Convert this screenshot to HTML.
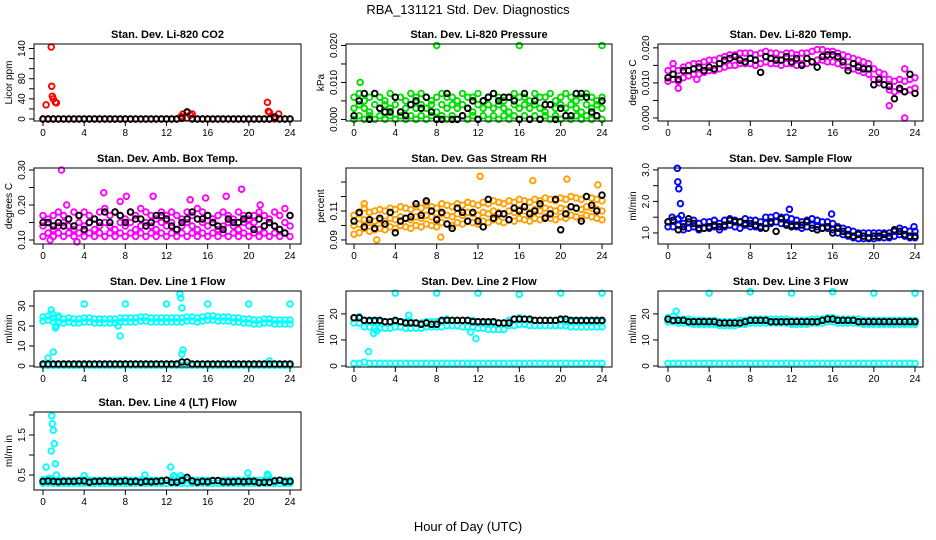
<!DOCTYPE html>
<html><head><meta charset="utf-8"><style>
html,body{margin:0;padding:0;background:#fff}
svg{display:block;font-family:"Liberation Sans",Arial,sans-serif}
</style></head><body>
<svg id="chart" width="936" height="540" viewBox="0 0 936 540" xmlns="http://www.w3.org/2000/svg">
<rect x="0" y="0" width="936" height="540" fill="#fff"/>
<text x="468" y="14" text-anchor="middle" font-size="13">RBA_131121  Std. Dev. Diagnostics</text>
<text x="468" y="531" text-anchor="middle" font-size="13">Hour of Day (UTC)</text>
</svg>
<script>
const hours = [0,0.5,1,1.5,2,2.5,3,3.5,4,4.5,5,5.5,6,6.5,7,7.5,8,8.5,9,9.5,10,10.5,11,11.5,12,12.5,13,13.5,14,14.5,15,15.5,16,16.5,17,17.5,18,18.5,19,19.5,20,20.5,21,21.5,22,22.5,23,23.5,24];
const xTicks = [0,4,8,12,16,20,24];

const co2Band = [0,0,0,0,0,0,0,0,0,0,0,0,0,0,0,0,0,0,0,0,0,0,0,0,0,0,0,1,2,1,0,0,0,0,0,0,0,0,0,0,0,0,0,0,0,0,0,0,0];
const co2Black = [0,0,0,0,0,0,0,0,0,0,0,0,0,0,0,0,0,0,0,0,0,0,0,0,0,0,0,2,14,0,0,0,0,0,0,0,0,0,0,0,0,0,0,0,0,4,0,0,0];
const co2OutH = [0.3,0.8,0.85,0.9,1.0,1.2,1.3,13.4,13.6,14,14.3,14.5,21.8,21.9,22,22.9,22.6];
const co2OutV = [28,143,65,45,40,33,32,5,10,13,8,10,33,15,13,10,3];

const presA = [0.006,0.007,0.005,0.006,0.007,0.006,0.005,0.007,0.006,0.006,0.005,0.007,0.006,0.007,0.006,0.005,0.006,0.007,0.006,0.006,0.005,0.007,0.006,0.006,0.007,0.005,0.006,0.007,0.006,0.005,0.006,0.007,0.006,0.006,0.005,0.007,0.006,0.006,0.007,0.005,0.006,0.007,0.006,0.005,0.006,0.007,0.006,0.005,0.006];
const presB = [0.003,0.004,0.003,0.002,0.004,0.003,0.004,0.003,0.004,0.002,0.003,0.004,0.003,0.004,0.003,0.004,0.002,0.004,0.003,0.004,0.003,0.004,0.003,0.002,0.004,0.003,0.004,0.003,0.004,0.003,0.002,0.004,0.003,0.004,0.003,0.004,0.003,0.002,0.004,0.003,0.004,0.003,0.004,0.003,0.002,0.004,0.003,0.004,0.003];
const presC = [0.000,0.001,0.000,0.001,0.000,0.001,0.000,0.001,0.000,0.001,0.000,0.001,0.000,0.001,0.000,0.001,0.000,0.001,0.000,0.001,0.000,0.001,0.000,0.001,0.000,0.001,0.000,0.001,0.000,0.001,0.000,0.001,0.000,0.001,0.000,0.001,0.000,0.001,0.000,0.001,0.000,0.001,0.000,0.001,0.000,0.001,0.000,0.001,0.000];
const presBlack = [0.001,0.005,0.007,0.000,0.007,0.003,0.002,0.002,0.006,0.002,0.001,0.004,0.005,0.003,0.006,0.002,0.000,0.000,0.007,0.000,0.000,0.001,0.003,0.005,0.000,0.005,0.006,0.007,0.005,0.006,0.006,0.005,0.000,0.007,0.000,0.005,0.000,0.004,0.004,0.000,0.003,0.001,0.001,0.007,0.007,0.006,0.002,0.001,0.005];
const presOutH = [0.6,8,16,24];
const presOutV = [0.010,0.020,0.020,0.020];

const tempA = [0.0135,0.014,0.0135,0.0145,0.015,0.0155,0.0155,0.016,0.0165,0.0165,0.017,0.0175,0.018,0.018,0.0185,0.0185,0.0185,0.018,0.0185,0.019,0.0185,0.0185,0.018,0.0185,0.0185,0.018,0.0185,0.0185,0.019,0.0195,0.0195,0.019,0.019,0.0185,0.018,0.0175,0.017,0.0165,0.016,0.0155,0.014,0.013,0.0125,0.011,0.0105,0.011,0.0105,0.011,0.0115];
const tempB = [0.0105,0.011,0.0105,0.0115,0.012,0.0125,0.0125,0.013,0.0135,0.0135,0.014,0.0145,0.015,0.015,0.0155,0.0155,0.0155,0.015,0.0155,0.016,0.0155,0.0155,0.015,0.0155,0.0155,0.015,0.0155,0.0155,0.016,0.0165,0.0165,0.016,0.016,0.0155,0.015,0.0145,0.014,0.0135,0.013,0.0125,0.011,0.010,0.0095,0.008,0.0075,0.008,0.0075,0.008,0.0085];
const tempBlack = [0.0115,0.0125,0.011,0.0135,0.0135,0.014,0.0145,0.0135,0.0145,0.014,0.0155,0.0165,0.017,0.0175,0.0165,0.016,0.017,0.0165,0.013,0.0175,0.017,0.0165,0.0165,0.0175,0.016,0.017,0.015,0.017,0.016,0.0145,0.0175,0.018,0.018,0.0175,0.016,0.0135,0.0155,0.0145,0.014,0.014,0.0095,0.011,0.0095,0.009,0.0055,0.0085,0.0075,0.0125,0.007];
const tempOutH = [0.5,2.8,23,21.5,23,1];
const tempOutV = [0.0155,0.011,0.0,0.0035,0.014,0.0085];

const ambA = [0.17,0.16,0.17,0.18,0.17,0.16,0.18,0.17,0.18,0.17,0.16,0.18,0.19,0.17,0.18,0.17,0.16,0.18,0.17,0.19,0.18,0.17,0.16,0.18,0.17,0.18,0.17,0.16,0.18,0.17,0.19,0.18,0.17,0.16,0.17,0.18,0.17,0.16,0.18,0.17,0.16,0.17,0.18,0.17,0.16,0.18,0.17,0.19,0.17];
const ambB = [0.14,0.15,0.13,0.14,0.15,0.14,0.13,0.15,0.14,0.15,0.13,0.14,0.15,0.14,0.13,0.15,0.14,0.15,0.13,0.14,0.15,0.14,0.13,0.15,0.14,0.15,0.13,0.14,0.15,0.14,0.13,0.15,0.14,0.15,0.13,0.14,0.15,0.14,0.13,0.15,0.14,0.15,0.13,0.14,0.15,0.14,0.13,0.15,0.14];
const ambC = [0.11,0.12,0.11,0.12,0.11,0.12,0.11,0.12,0.11,0.12,0.11,0.12,0.11,0.12,0.11,0.12,0.11,0.12,0.11,0.12,0.11,0.12,0.11,0.12,0.11,0.12,0.11,0.12,0.11,0.12,0.11,0.12,0.11,0.12,0.11,0.12,0.11,0.12,0.11,0.12,0.11,0.12,0.11,0.12,0.11,0.12,0.11,0.12,0.11];
const ambBlack = [0.15,0.15,0.14,0.15,0.14,0.16,0.14,0.17,0.13,0.15,0.16,0.15,0.18,0.15,0.18,0.17,0.15,0.18,0.16,0.16,0.14,0.15,0.17,0.17,0.16,0.14,0.13,0.15,0.16,0.18,0.16,0.16,0.17,0.15,0.14,0.13,0.16,0.15,0.15,0.16,0.17,0.13,0.16,0.14,0.15,0.14,0.13,0.12,0.17];
const ambOutH = [1.8,2.3,3.3,5.9,7.5,8.1,10.7,14.3,15.8,17.8,19.3,21.1,0.7];
const ambOutV = [0.30,0.20,0.095,0.235,0.21,0.225,0.225,0.215,0.22,0.225,0.245,0.20,0.10];

const rhA = [0.107,0.108,0.112,0.109,0.110,0.111,0.110,0.112,0.111,0.113,0.112,0.111,0.113,0.112,0.114,0.113,0.112,0.115,0.114,0.113,0.115,0.114,0.116,0.115,0.114,0.116,0.115,0.117,0.116,0.115,0.117,0.116,0.118,0.117,0.116,0.118,0.117,0.119,0.118,0.117,0.119,0.118,0.120,0.119,0.118,0.120,0.119,0.118,0.117];
const rhB = [0.100,0.101,0.104,0.102,0.103,0.104,0.103,0.105,0.104,0.106,0.105,0.104,0.106,0.105,0.107,0.106,0.105,0.108,0.107,0.106,0.108,0.107,0.109,0.108,0.107,0.109,0.108,0.110,0.109,0.108,0.110,0.109,0.111,0.110,0.109,0.111,0.110,0.112,0.111,0.110,0.112,0.111,0.113,0.112,0.111,0.113,0.112,0.111,0.110];
const rhC = [0.094,0.095,0.098,0.096,0.097,0.098,0.097,0.099,0.098,0.100,0.099,0.098,0.100,0.099,0.101,0.100,0.099,0.102,0.101,0.100,0.102,0.101,0.103,0.102,0.101,0.103,0.102,0.104,0.103,0.102,0.104,0.103,0.105,0.104,0.103,0.105,0.104,0.106,0.105,0.104,0.106,0.105,0.107,0.106,0.105,0.107,0.106,0.105,0.104];
const rhBlack = [0.103,0.109,0.099,0.104,0.098,0.105,0.101,0.109,0.095,0.103,0.105,0.106,0.115,0.107,0.117,0.110,0.104,0.109,0.101,0.098,0.112,0.109,0.103,0.109,0.103,0.099,0.118,0.105,0.108,0.108,0.104,0.112,0.110,0.113,0.108,0.110,0.115,0.105,0.108,0.118,0.097,0.108,0.113,0.112,0.103,0.120,0.114,0.110,0.121];
const rhOutH = [2.2,12.2,17.3,20.6,23.6,1,7,8.4];
const rhOutV = [0.090,0.134,0.131,0.132,0.128,0.115,0.116,0.092];

const flowA = [1.35,1.4,1.45,1.3,1.35,1.4,1.3,1.35,1.35,1.4,1.3,1.4,1.45,1.4,1.35,1.45,1.4,1.4,1.35,1.5,1.5,1.55,1.5,1.5,1.45,1.4,1.35,1.4,1.45,1.4,1.35,1.35,1.3,1.2,1.15,1.1,1.05,1.0,1.0,1.0,1.0,1.0,1.0,1.0,1.05,1.15,1.1,1.05,1.05];
const flowB = [1.2,1.2,1.25,1.1,1.15,1.2,1.1,1.15,1.15,1.2,1.1,1.2,1.25,1.2,1.15,1.25,1.2,1.2,1.15,1.3,1.3,1.35,1.3,1.3,1.25,1.2,1.15,1.2,1.25,1.2,1.15,1.15,1.1,1.0,0.95,0.9,0.85,0.82,0.82,0.82,0.82,0.85,0.85,0.85,0.9,0.95,0.9,0.85,0.85];
const flowBlack = [1.35,1.4,1.1,1.2,1.45,1.3,1.15,1.15,1.2,1.25,1.2,1.25,1.4,1.35,1.35,1.3,1.3,1.25,1.2,1.15,1.35,1.05,1.45,1.25,1.2,1.25,1.25,1.35,1.15,1.1,1.15,1.2,1.0,1.15,1.05,0.95,0.9,0.95,0.9,0.85,0.9,0.9,0.95,0.9,1.1,1.05,0.95,0.9,0.9];
const flowOutH = [0.9,0.95,1.05,1.2,1.3,0.4,15.9,11.8,23.9];
const flowOutV = [3.05,2.62,2.4,1.93,1.55,1.5,1.6,1.75,1.2];

const l1A = [24.5,25,24,24,23.5,24,23.5,23.5,24,24,23.5,23.5,23.5,23.5,23.5,24,24,24,24,24.5,24.5,24,24,24,24,24,24,24,24.5,24.5,24,24.5,25,25,24.5,24.5,24.5,24,24,23.5,23.5,23,23,23.5,23.5,23,23,23,23];
const l1B = [22.5,23,22,22,21.5,22,21.5,21.5,22,22,21.5,21.5,21.5,21.5,21.5,22,22,22,22,22.5,22.5,22,22,22,22,22,22,22,22.5,22.5,22,22.5,23,23,22.5,22.5,22.5,22,22,21.5,21.5,21,21,21.5,21.5,21,21,21,21];
const l1Low = [0.3,0.3,0.3,0.3,0.3,0.3,0.3,0.3,0.3,0.3,0.3,0.3,0.3,0.3,0.3,0.3,0.3,0.3,0.3,0.3,0.3,0.3,0.3,0.3,0.3,0.3,0.3,0.3,0.3,0.3,0.3,0.3,0.3,0.3,0.3,0.3,0.3,0.3,0.3,0.3,0.3,0.3,0.3,0.3,0.3,0.3,0.3,0.3,0.3];
const l1Black = [1,1,1,1,1,1,1,1,1,1,1,1,1,1,1,1,1,1,1,1,1,1,1,1,1,1,1,2,2,1,1,1,1,1,1,1,1,1,1,1,1,1,1,1,1,1,1,1,1];
const l1OutH = [0.8,0.9,1.2,1.3,1.5,0.5,4,8,12,13.3,13.4,13.5,13.6,13.5,16,20,24,7.3,7.5,1,22];
const l1OutV = [28,26,19,20,25,4,31,31,31,36,34,29,8,6,31,31,31,20,15,7,2.5];

const l2A = [18.5,19,17.5,17,17,17,17,17,17,17,17,17,16.5,16.5,17,17,17,17,18,17.5,17.5,17.5,17.5,17.5,17,16.5,16.5,16.5,16.5,16.5,17.5,18,18.5,18,17.5,17.5,17.5,17.5,17.5,17.5,17.5,17,17,17,17,17,17,17,17];
const l2B = [16.5,16.5,15,15,14.5,14.5,14.5,14.5,15,15,14.5,14.5,14.5,14.5,15,15,15,15,15.5,15.5,15.5,15,15,15,14.5,14.5,14,14,14,14,15.5,15.5,16,16,15.5,15.5,15.5,15.5,15.5,15.5,15.5,15.5,15,15,15,15,15,15,15];
const l2Low = [1,1,1.5,1,1,1,1,1,1,1,1,1,1,1,1,1,1,1,1,1,1,1,1,1,1,1,1,1,1,1,1,1,1,1,1,1,1,1,1,1,1,1,1,1,1,1,1,1,1];
const l2Black = [18.5,18.5,17.5,17.5,17.5,17.5,17,17,17.5,17,16.5,16.5,16.5,16,16.5,16,16,17.5,17.5,17.5,17.5,17.5,17.5,17,17,17,17,17,16.5,16.5,16.5,18,18,18,18,17.5,17.5,17.5,17.5,17.5,18,18,17.5,17.5,17.5,17.5,17.5,17.5,17.5];
const l2OutH = [4,8,12,16,20,24,5.3,1.9,2.2,1.4,11.3,11.8];
const l2OutV = [28,28,28,27.5,28,28,19.5,12.5,13.5,5.5,13,10.5];

const l3A = [18.5,19,18,18,18,17.5,17.5,17.5,17.5,17.5,17,17,17,17,17.5,17.5,18,18,18,18,18,18,18,18,17.5,17.5,17.5,17.5,18,18,18,18.5,18.5,18,18,18,18,18,17.5,17.5,17.5,17.5,17.5,17.5,17.5,17.5,17.5,17.5,17.5];
const l3B = [17,17,16.5,16.5,16.5,16,16,16,16,16,15.5,15.5,15.5,15.5,16,16,16.5,16.5,16.5,16.5,16.5,16.5,16.5,16.5,16,16,16,16,16.5,16.5,16.5,17,17,16.5,16.5,16.5,16.5,16.5,16,16,16,16,16,16,16,16,16,16,16];
const l3Low = [1,1,1,1,1,1,1,1,1,1,1,1,1,1,1,1,1,1,1,1,1,1,1,1,1,1,1,1,1,1,1,1,1,1,1,1,1,1,1,1,1,1,1,1,1,1,1,1,1];
const l3Black = [18,17.5,17.5,17.5,17,17,17,17,17,17,16.5,16.5,16.5,16.5,16.5,17,17.5,17.5,17.5,17.5,17,17,17,17,17,17,17,17,17,17,17.5,18,18,17.5,17.5,17.5,17.5,17,17,17,17,17,17,17,17,17,17,17,17];
const l3OutH = [4,8,12,16,20,24,0.8];
const l3OutV = [28,28.5,28,28.5,28,28,21];

const l4A = [0.38,0.4,0.38,0.37,0.37,0.37,0.37,0.37,0.38,0.37,0.37,0.37,0.37,0.37,0.37,0.37,0.38,0.37,0.37,0.37,0.37,0.37,0.37,0.37,0.37,0.38,0.37,0.4,0.38,0.37,0.37,0.37,0.37,0.37,0.37,0.37,0.37,0.37,0.37,0.37,0.38,0.37,0.37,0.37,0.4,0.37,0.37,0.37,0.37];
const l4B = [0.29,0.3,0.29,0.29,0.29,0.29,0.29,0.29,0.29,0.29,0.29,0.29,0.29,0.29,0.29,0.29,0.29,0.29,0.29,0.29,0.29,0.29,0.29,0.29,0.29,0.29,0.29,0.29,0.29,0.29,0.29,0.29,0.29,0.29,0.29,0.29,0.29,0.29,0.29,0.29,0.29,0.29,0.29,0.29,0.29,0.29,0.29,0.29,0.29];
const l4Black = [0.34,0.35,0.34,0.33,0.34,0.34,0.34,0.35,0.35,0.32,0.34,0.34,0.35,0.34,0.33,0.34,0.35,0.33,0.34,0.32,0.34,0.33,0.34,0.35,0.37,0.32,0.32,0.36,0.44,0.35,0.32,0.34,0.33,0.36,0.36,0.33,0.33,0.33,0.34,0.33,0.34,0.34,0.31,0.32,0.32,0.35,0.37,0.33,0.34];
const l4OutH = [0.3,0.8,0.85,0.9,1.0,1.1,1.2,1.3,4,12.4,12.7,12.9,13.4,13.6,19.9,21.8,21.9,9.9,0.6];
const l4OutV = [0.7,1.1,1.98,1.78,1.62,1.28,0.78,0.5,0.48,0.7,0.48,0.45,0.48,0.42,0.55,0.52,0.48,0.5,0.42];

const colBox = [[34,301,43,290],[346,612,354,602],[658,923,668,915]];
const rowBox = [[44,121],[168,244],[291,367],[412,490]];

const panels = [
 {name:'co2',title:'Stan. Dev. Li-820 CO2',ylab:'Licor ppm',col:0,row:0,yMin:-4,yMax:149,ticks:[0,20,40,60,80,100,120,140],labels:['0','40','80','140'],color:'#ff0000',
  series:[[co2Band,'c'],[co2Black,'k']],out:[co2OutH,co2OutV]},
 {name:'pressure',title:'Stan. Dev. Li-820 Pressure',ylab:'kPa',col:1,row:0,yMin:-0.00043,yMax:0.0204,ticks:[0,0.005,0.010,0.015,0.020],labels:['0.000','0.010','0.020'],color:'#00dd00',
  series:[[presA,'c'],[presB,'c'],[presC,'c'],[presBlack,'k']],out:[presOutH,presOutV]},
 {name:'temp',title:'Stan. Dev. Li-820 Temp.',ylab:'degrees C',col:2,row:0,yMin:-0.00086,yMax:0.0211,ticks:[0,0.005,0.010,0.015,0.020],labels:['0.000','0.010','0.020'],color:'#ff00ff',
  series:[[tempA,'c'],[tempB,'c'],[tempBlack,'k']],out:[tempOutH,tempOutV]},
 {name:'amb-box-temp',title:'Stan. Dev. Amb. Box Temp.',ylab:'degrees C',col:0,row:1,yMin:0.0886,yMax:0.3057,ticks:[0.10,0.15,0.20,0.25,0.30],labels:['0.10','0.20','0.30'],color:'#ff00ff',
  series:[[ambA,'c'],[ambB,'c'],[ambC,'c'],[ambBlack,'k']],out:[ambOutH,ambOutV]},
 {name:'gas-rh',title:'Stan. Dev. Gas Stream RH',ylab:'percent',col:1,row:1,yMin:0.0872,yMax:0.1397,ticks:[0.09,0.10,0.11,0.12,0.13],labels:['0.09','0.11'],color:'#ff9f00',
  series:[[rhA,'c'],[rhB,'c'],[rhC,'c'],[rhBlack,'k']],out:[rhOutH,rhOutV]},
 {name:'sample-flow',title:'Stan. Dev. Sample Flow',ylab:'ml/min',col:2,row:1,yMin:0.65,yMax:3.06,ticks:[1.0,1.5,2.0,2.5,3.0],labels:['1.0','2.0','3.0'],color:'#0000ff',
  series:[[flowA,'c'],[flowB,'c'],[flowBlack,'k']],out:[flowOutH,flowOutV]},
 {name:'line1-flow',title:'Stan. Dev. Line 1 Flow',ylab:'ml/min',col:0,row:2,yMin:-0.5,yMax:37.5,ticks:[0,10,20,30],labels:['0','10','20','30'],color:'#00ffff',
  series:[[l1A,'c'],[l1B,'c'],[l1Low,'c'],[l1Black,'k']],out:[l1OutH,l1OutV]},
 {name:'line2-flow',title:'Stan. Dev. Line 2 Flow',ylab:'ml/min',col:1,row:2,yMin:-0.4,yMax:28.8,ticks:[0,10,20],labels:['0','10','20'],color:'#00ffff',
  series:[[l2A,'c'],[l2B,'c'],[l2Low,'c'],[l2Black,'k']],out:[l2OutH,l2OutV]},
 {name:'line3-flow',title:'Stan. Dev. Line 3 Flow',ylab:'ml/min',col:2,row:2,yMin:-0.4,yMax:28.8,ticks:[0,10,20],labels:['0','10','20'],color:'#00ffff',
  series:[[l3A,'c'],[l3B,'c'],[l3Low,'c'],[l3Black,'k']],out:[l3OutH,l3OutV]},
 {name:'line4-flow',title:'Stan. Dev. Line 4 (LT) Flow',ylab:'ml/m in',col:0,row:3,yMin:0.125,yMax:2.075,ticks:[0.5,1.0,1.5,2.0],labels:['0.5','1.5'],color:'#00ffff',
  series:[[l4A,'c'],[l4B,'c'],[l4Black,'k']],out:[l4OutH,l4OutV]}
];

const NS = 'http://www.w3.org/2000/svg';
const svg = document.getElementById('chart');
function mk(tag, attrs, parent){
  const e = document.createElementNS(NS, tag);
  for (const k in attrs) e.setAttribute(k, attrs[k]);
  parent.appendChild(e);
  return e;
}

panels.forEach(p => {
  const [bx0, bx1, h0x, h24x] = colBox[p.col];
  const [by0, by1] = rowBox[p.row];
  const xs = h => h0x + (h24x - h0x) * h / 24;
  const ys = v => by1 - (by1 - by0) * (v - p.yMin) / (p.yMax - p.yMin);
  const g = mk('g', {}, svg);
  
  

  const t = mk('text', {x:(bx0+bx1)/2, y:by0-6, 'text-anchor':'middle', 'font-size':'11', 'font-weight':'bold'}, g);
  t.textContent = p.title;
  
  

  const marks = mk('g', {fill:'none', 'stroke-width':'1.9'}, g);
  
  
  const dot = (h, v, col) => {
    const c = mk('circle', {cx:xs(h).toFixed(1), cy:ys(v).toFixed(1), r:'2.8', stroke:col}, marks);
    
    
  };
  p.series.filter(s => s[1] === 'c').forEach(s => s[0].forEach((v, i) => dot(hours[i], v, p.color)));
  p.out[0].forEach((h, i) => dot(h, p.out[1][i], p.color));
  p.series.filter(s => s[1] === 'k').forEach(s => s[0].forEach((v, i) => dot(hours[i], v, '#000')));

  const box = mk('rect', {x:bx0, y:by0, width:bx1-bx0, height:by1-by0, fill:'none', stroke:'#000', 'stroke-width':'1'}, g);
  
  

  const xa = mk('g', {stroke:'#000', 'stroke-width':'1'}, g);
  
  
  xTicks.forEach(h => {
    mk('line', {x1:xs(h), x2:xs(h), y1:by1, y2:by1+5}, xa);
    const tl = mk('text', {x:xs(h), y:by1+15, 'text-anchor':'middle', 'font-size':'10', stroke:'none', fill:'#000'}, xa);
    tl.textContent = String(h);
    
    
  });

  const ya = mk('g', {stroke:'#000', 'stroke-width':'1'}, g);
  
  
  p.ticks.forEach(v => mk('line', {x1:bx0-5, x2:bx0, y1:ys(v), y2:ys(v)}, ya));
  p.labels.forEach(l => {
    const v = parseFloat(l);
    const yy = ys(v);
    const tl = mk('text', {x:bx0-9, y:yy, 'text-anchor':'middle', 'font-size':'10', stroke:'none', fill:'#000', transform:`rotate(-90 ${bx0-9} ${yy})`}, ya);
    tl.textContent = l;
    
    
  });
  const yl = mk('text', {x:bx0-22, y:(by0+by1)/2, 'text-anchor':'middle', 'font-size':'10', transform:`rotate(-90 ${bx0-22} ${(by0+by1)/2})`}, g);
  yl.textContent = p.ylab;
  
  
});
</script>
</body></html>
